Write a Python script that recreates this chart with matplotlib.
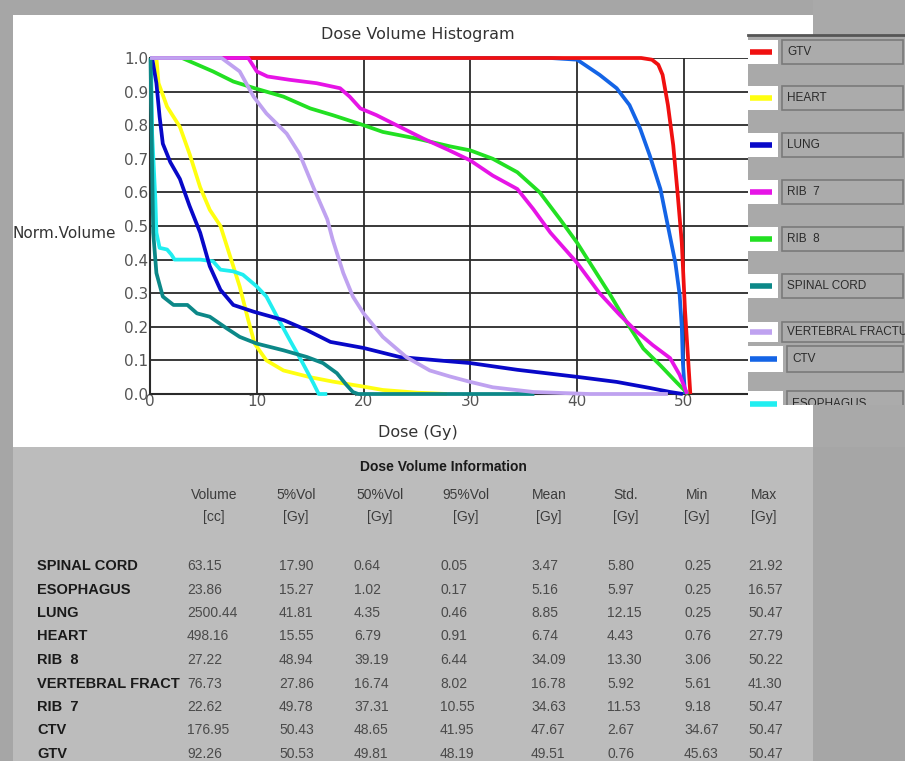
import numpy as np
import matplotlib.pyplot as plt
from matplotlib.patches import Rectangle
from matplotlib.lines import Line2D
from matplotlib.transforms import Bbox, TransformedBbox

# --- DVH curves (dose in Gy, normalised volume) ---
ctv_dose = [0, 37.5, 40.0, 42.1, 43.7, 44.9, 45.9, 46.8, 47.8, 48.5, 49.2, 49.6, 49.8, 49.9, 50.1]
ctv_vol = [1.0, 1.0, 0.995, 0.95, 0.91, 0.86, 0.79, 0.71, 0.61, 0.50, 0.39, 0.295, 0.20, 0.095, 0.0]

gtv_dose = [0, 46.0, 47.0, 47.6, 48.0, 48.5, 49.0, 49.4, 49.8, 50.1, 50.4, 50.6]
gtv_vol = [1.0, 1.0, 0.995, 0.98, 0.95, 0.86, 0.74, 0.60, 0.45, 0.25, 0.10, 0.0]

heart_dose = [0, 0.6, 0.8, 1.6, 2.8, 3.7, 4.7, 5.6, 6.6, 7.5, 8.4, 9.2, 9.8, 10.9, 12.5, 15.0,
              17.1, 20.0, 21.8, 25.0, 27.8]
heart_vol = [1.0, 1.0, 0.925, 0.855, 0.795, 0.715, 0.615, 0.548, 0.50, 0.41, 0.32, 0.22, 0.15,
             0.10, 0.07, 0.05, 0.037, 0.022, 0.012, 0.004, 0.0]

esoph_dose = [0, 0.1, 0.2, 0.5, 0.6, 0.9, 1.6, 2.0, 2.3, 4.7, 5.9, 6.6, 7.8, 8.7, 10.0, 10.9,
              11.9, 13.1, 14.3, 15.3, 15.8, 16.6]
esoph_vol = [1.0, 1.0, 0.775, 0.58, 0.48, 0.435, 0.43, 0.415, 0.40, 0.40, 0.395, 0.37, 0.365,
             0.355, 0.32, 0.29, 0.23, 0.16, 0.092, 0.032, 0.0, 0.0]

lung_dose = [0, 0.2, 0.6, 0.9, 1.2, 1.9, 2.8, 3.7, 4.7, 5.6, 6.6, 7.8, 9.7, 12.5, 14.7, 16.9,
             20.0, 23.4, 28.1, 30.0, 34.4, 40.0, 43.7, 46.8, 48.7, 49.9]
lung_vol = [1.0, 1.0, 0.925, 0.825, 0.745, 0.69, 0.64, 0.56, 0.48, 0.38, 0.31, 0.265, 0.245,
            0.22, 0.19, 0.155, 0.137, 0.11, 0.097, 0.092, 0.072, 0.051, 0.036, 0.018, 0.006, 0.0]

rib8_dose = [0, 3.0, 5.9, 7.8, 9.8, 12.5, 15.0, 17.1, 20.0, 21.8, 25.0, 28.1, 30.0, 32.1, 34.4,
             36.5, 38.4, 40.0, 41.5, 43.1, 44.7, 46.2, 47.8, 49.3, 50.4]
rib8_vol = [1.0, 1.0, 0.96, 0.93, 0.91, 0.885, 0.85, 0.83, 0.80, 0.78, 0.76, 0.737, 0.725, 0.70,
            0.66, 0.60, 0.52, 0.45, 0.375, 0.295, 0.21, 0.135, 0.085, 0.035, 0.0]

rib7_dose = [0, 9.2, 10.0, 11.0, 13.1, 15.6, 17.8, 18.7, 19.7, 21.2, 23.4, 25.6, 27.9, 30.0,
             32.1, 34.4, 35.9, 37.5, 40.0, 42.1, 44.0, 45.6, 47.1, 48.7, 49.6, 50.3]
rib7_vol = [1.0, 1.0, 0.96, 0.945, 0.935, 0.925, 0.91, 0.885, 0.85, 0.83, 0.795, 0.76, 0.727,
            0.695, 0.65, 0.61, 0.55, 0.48, 0.39, 0.30, 0.235, 0.185, 0.145, 0.107, 0.057, 0.0]

cord_dose = [0, 0.05, 0.2, 0.3, 0.6, 1.2, 2.2, 3.5, 4.4, 5.6, 7.2, 8.4, 10.0, 12.5, 14.7, 16.2,
             17.5, 18.4, 19.0, 19.5, 36.0]
cord_vol = [1.0, 1.0, 0.675, 0.48, 0.36, 0.29, 0.265, 0.265, 0.24, 0.23, 0.195, 0.17, 0.15,
            0.13, 0.11, 0.092, 0.062, 0.027, 0.006, 0.0, 0.0]

vert_dose = [0, 6.7, 8.4, 9.7, 10.9, 12.8, 14.0, 15.3, 16.6, 17.1, 18.1, 19.0, 20.0, 21.8, 24.0,
             26.2, 28.1, 30.0, 32.1, 35.9, 41.2, 48.5]
vert_vol = [1.0, 1.0, 0.96, 0.885, 0.835, 0.775, 0.715, 0.615, 0.52, 0.46, 0.36, 0.29, 0.24,
            0.17, 0.11, 0.07, 0.052, 0.036, 0.02, 0.006, 0.0, 0.0]

# drawing order, bottom to top
curves = [
    (ctv_dose, ctv_vol, '#1464e6'),
    (gtv_dose, gtv_vol, '#f01010'),
    (heart_dose, heart_vol, '#ffff10'),
    (esoph_dose, esoph_vol, '#20eef0'),
    (lung_dose, lung_vol, '#0808c8'),
    (rib8_dose, rib8_vol, '#22e022'),
    (rib7_dose, rib7_vol, '#e614e6'),
    (cord_dose, cord_vol, '#0c8888'),
    (vert_dose, vert_vol, '#bfa2f0'),
]

# --- legend ---
legend_names = ['GTV', 'HEART', 'LUNG', 'RIB  7', 'RIB  8', 'SPINAL CORD',
                'VERTEBRAL FRACTURE', 'CTV', 'ESOPHAGUS']
legend_colors = ['#f01010', '#ffff10', '#0808c8', '#e614e6', '#22e022', '#0c8888',
                 '#bfa2f0', '#1464e6', '#20eef0']

# --- dose volume information table ---
col_names = ['Volume', '5%Vol', '50%Vol', '95%Vol', 'Mean', 'Std.', 'Min', 'Max']
col_units = ['[cc]', '[Gy]', '[Gy]', '[Gy]', '[Gy]', '[Gy]', '[Gy]', '[Gy]']
row_names = ['SPINAL CORD', 'ESOPHAGUS', 'LUNG', 'HEART', 'RIB  8', 'VERTEBRAL FRACT',
             'RIB  7', 'CTV', 'GTV']
table_vals = [
    ['63.15', '17.90', '0.64', '0.05', '3.47', '5.80', '0.25', '21.92'],
    ['23.86', '15.27', '1.02', '0.17', '5.16', '5.97', '0.25', '16.57'],
    ['2500.44', '41.81', '4.35', '0.46', '8.85', '12.15', '0.25', '50.47'],
    ['498.16', '15.55', '6.79', '0.91', '6.74', '4.43', '0.76', '27.79'],
    ['27.22', '48.94', '39.19', '6.44', '34.09', '13.30', '3.06', '50.22'],
    ['76.73', '27.86', '16.74', '8.02', '16.78', '5.92', '5.61', '41.30'],
    ['22.62', '49.78', '37.31', '10.55', '34.63', '11.53', '9.18', '50.47'],
    ['176.95', '50.43', '48.65', '41.95', '47.67', '2.67', '34.67', '50.47'],
    ['92.26', '50.53', '49.81', '48.19', '49.51', '0.76', '45.63', '50.47'],
]

W, H = 905, 761


def fx(x):
    return x / W


def fy(y):
    return 1 - y / H


def box(x0, y0, x1, y1, **kw):
    # rectangle given in image pixels (y downwards)
    return Rectangle((fx(x0), fy(y1)), (x1 - x0) / W, (y1 - y0) / H,
                     transform=fig.transFigure, **kw)


fig = plt.figure(figsize=(W / 100, H / 100), dpi=100, facecolor='#a6a6a6')

# panels
fig.add_artist(box(13, 15, 813, 447, facecolor='white', edgecolor='none', zorder=-5))
fig.add_artist(box(13, 447, 813, 761, facecolor='#bcbcbc', edgecolor='none', zorder=-5))

# --- the DVH plot ---
ax = fig.add_axes([fx(150), fy(394), (748 - 150) / W, (394 - 58) / H])
ax.set_facecolor('none')
for d, v, c in curves:
    ax.plot(d, v, color=c, lw=2.7, solid_capstyle='butt', clip_on=False, zorder=3)

ax.set_xlim(0, 56)
ax.set_ylim(0, 1.0)
ax.set_xticks([0, 10, 20, 30, 40, 50])
ax.set_yticks(np.round(np.arange(0, 1.01, 0.1), 1))
ax.set_yticklabels(['%.1f' % t for t in np.arange(0, 1.01, 0.1)])
for t in [10, 20, 30, 40, 50]:
    ax.axvline(t, color='#2a2a2a', lw=1.3, zorder=1)
for t in np.arange(0.1, 1.01, 0.1):
    ax.axhline(t, color='#2a2a2a', lw=1.3, zorder=1)
for s in ['top', 'right']:
    ax.spines[s].set_visible(False)
for s in ['left', 'bottom']:
    ax.spines[s].set_color('#2a2a2a')
    ax.spines[s].set_linewidth(1.5)
ax.tick_params(length=0, labelsize=11, labelcolor='#555555')
ax.tick_params(axis='y', pad=1)
ax.tick_params(axis='x', pad=0)

fig.text(fx(418), fy(35), 'Dose Volume Histogram', ha='center', va='center',
         fontsize=11.5, color='#333333')
fig.text(fx(12), fy(233), 'Norm.Volume', ha='left', va='center', fontsize=11,
         color='#333333')
fig.text(fx(418), fy(432), 'Dose (Gy)', ha='center', va='center', fontsize=11.5,
         color='#333333')

# --- legend panel ---
fig.add_artist(box(813, 0, 905, 35, facecolor='#a9a9a9', edgecolor='none', zorder=-4))
fig.add_artist(box(748, 35, 905, 405, facecolor='#a9a9a9', edgecolor='none', zorder=2))
fig.add_artist(box(813, 405, 905, 447, facecolor='#a9a9a9', edgecolor='none', zorder=-4))
fig.add_artist(Line2D([fx(748), fx(905)], [fy(35), fy(35)], color='#555555', lw=2,
                      transform=fig.transFigure, zorder=3))

leg_y = [52, 98, 145, 192, 239, 286, 332, 359, 404]
leg_clip = TransformedBbox(Bbox([[fx(748), fy(405)], [1, fy(35)]]), fig.transFigure)
for i, (name, col) in enumerate(zip(legend_names, legend_colors)):
    cy = leg_y[i]
    half = 12
    bx = 782
    if name == 'VERTEBRAL FRACTURE':
        half = 10
    if name in ('CTV', 'ESOPHAGUS'):
        bx = 787
        half = 13
    white = box(748, cy - half, bx - 4, cy + half, facecolor='white', edgecolor='none',
                zorder=3)
    white.set_clip_box(leg_clip)
    fig.add_artist(white)
    sw = Line2D([fx(750), fx(bx - 10)], [fy(cy), fy(cy)], color=col, lw=4,
                transform=fig.transFigure, zorder=4, solid_capstyle='butt')
    fig.add_artist(sw)
    btn = box(bx, cy - half, 903, cy + half, facecolor='#ababab', edgecolor='#7a7a7a',
              lw=1.2, zorder=3)
    btn.set_clip_box(leg_clip)
    fig.add_artist(btn)
    t = fig.text(fx(bx + 5), fy(cy), name, ha='left', va='center', fontsize=8.5,
                 family='Liberation Sans', color='#2a2a2a', zorder=5)
    t.set_clip_box(leg_clip)
    t.set_clip_on(True)

# --- table ---
fig.text(fx(443), fy(467), 'Dose Volume Information', ha='center', va='center',
         fontsize=10, fontweight='bold', family='Liberation Sans', color='#1a1a1a')
head_x = [214, 296, 380, 466, 549, 626, 697, 764]
val_x = [187, 279, 354, 440, 531, 607, 684, 748]
for j in range(len(col_names)):
    fig.text(fx(head_x[j]), fy(495), col_names[j], ha='center', va='center',
             fontsize=10, family='Liberation Sans', color='#3c3c3c')
    fig.text(fx(head_x[j]), fy(517), col_units[j], ha='center', va='center',
             fontsize=10, family='Liberation Sans', color='#3c3c3c')
for i, name in enumerate(row_names):
    ry = 566 + i * 23.5
    fig.text(fx(37), fy(ry), name, ha='left', va='center', fontsize=10.5,
             fontweight='bold', family='Liberation Sans', color='#1a1a1a')
    for j, v in enumerate(table_vals[i]):
        fig.text(fx(val_x[j]), fy(ry), v, ha='left', va='center', fontsize=10,
                 family='Liberation Sans', color='#4a4a4a')

plt.savefig('out.png', dpi=100, facecolor=fig.get_facecolor())
